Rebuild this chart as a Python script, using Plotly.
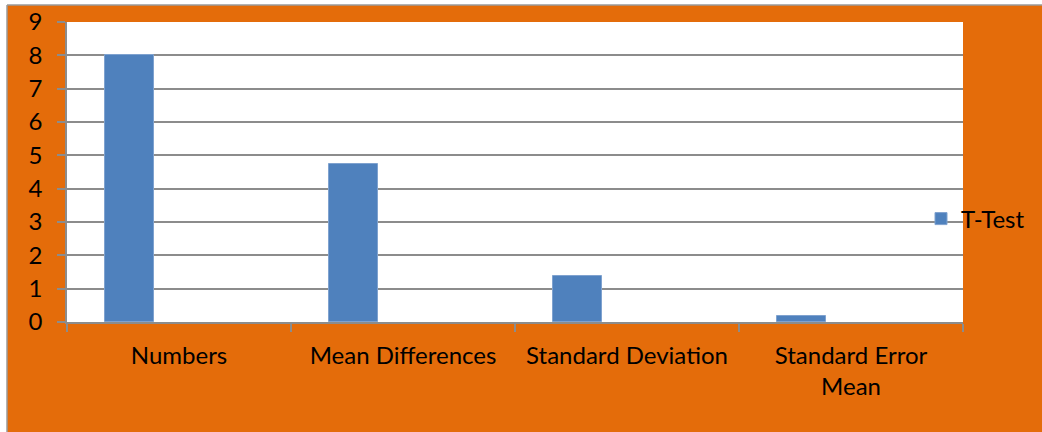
import plotly.graph_objects as go

categories = ["Numbers", "Mean Differences", "Standard Deviation", "Standard Error<br>Mean"]
t_test = [8, 4.74, 1.39, 0.17]
series_name = "T-Test"
y_ticks = [0, 1, 2, 3, 4, 5, 6, 7, 8, 9]

W, H = 1042, 432
ML, MR, MT, MB = 67, 79, 22, 110
PW = W - ML - MR
PH = H - MT - MB

ORANGE = "#E46C0A"
BAR = "#4F81BD"
GRID = "#8C8C8C"
FONT = "Lato"
FS = 24


def px_x(p):
    return (p - ML) / PW


def px_y(p):
    return (H - MB - p) / PH


fig = go.Figure()
fig.add_trace(go.Bar(
    x=categories,
    y=t_test,
    name=series_name,
    width=0.219,
    offset=-0.330,
    marker=dict(color=BAR, line=dict(color="#7FA2CF", width=1)),
    showlegend=True,
))

fig.update_layout(
    width=W,
    height=H,
    margin=dict(l=ML, r=MR, t=MT, b=MB, pad=0, autoexpand=False),
    paper_bgcolor=ORANGE,
    plot_bgcolor="white",
    font=dict(family=FONT, size=FS, color="black"),
    showlegend=True,
    legend=dict(
        x=px_x(921), xanchor="left",
        y=px_y(219), yanchor="middle",
        bgcolor="rgba(0,0,0,0)",
        font=dict(family=FONT, size=FS, color="black"),
        itemwidth=30,
    ),
    xaxis=dict(
        type="category",
        range=[-0.5, 3.5],
        automargin=False,
        showgrid=False,
        showline=True, linecolor=GRID, linewidth=1.5,
        ticks="outside", tickson="boundaries", ticklen=8,
        tickcolor=GRID, tickwidth=1.5,
        ticklabelstandoff=11,
        tickfont=dict(family=FONT, size=FS, color="black"),
    ),
    yaxis=dict(
        range=[0, 9],
        automargin=False,
        tickvals=y_ticks,
        showgrid=True, gridcolor=GRID, gridwidth=1.5,
        showline=True, linecolor=GRID, linewidth=1.5,
        ticks="outside", ticklen=8, tickcolor=GRID, tickwidth=1.5,
        ticklabelstandoff=10,
        zeroline=False,
        tickfont=dict(family=FONT, size=FS, color="black"),
    ),
    bargap=0,
)

# outer frame: white strips left/top and a grey border line
fig.add_shape(type="rect", xref="paper", yref="paper",
              x0=px_x(-5), x1=px_x(7), y0=px_y(H + 5), y1=px_y(-5),
              fillcolor="white", line_width=0, layer="above")
fig.add_shape(type="rect", xref="paper", yref="paper",
              x0=px_x(-5), x1=px_x(W + 5), y0=px_y(5), y1=px_y(-5),
              fillcolor="white", line_width=0, layer="above")
fig.add_shape(type="line", xref="paper", yref="paper",
              x0=px_x(7), x1=px_x(7), y0=px_y(5), y1=px_y(H + 5),
              line=dict(color="#9A9A9A", width=1.5), layer="above")
fig.add_shape(type="line", xref="paper", yref="paper",
              x0=px_x(7), x1=px_x(W + 5), y0=px_y(5), y1=px_y(5),
              line=dict(color="#9A9A9A", width=1.5), layer="above")

fig.write_html("out.html")
